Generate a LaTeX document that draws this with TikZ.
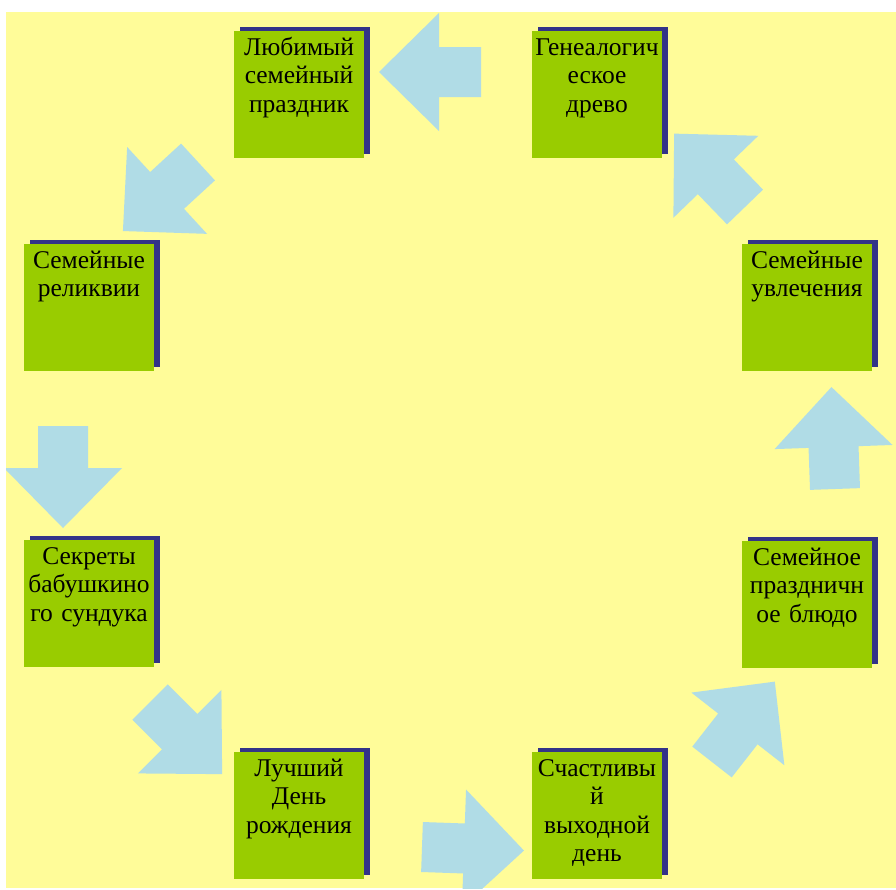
\documentclass[tikz,border=0pt]{standalone}
\usepackage{fontspec}
\setmainfont{Liberation Serif}
\definecolor{bgyellow}{HTML}{FFFC99}
\definecolor{boxgreen}{HTML}{99CC00}
\definecolor{shadownavy}{HTML}{333388}
\definecolor{arrowblue}{HTML}{B0DCE6}
\tikzset{
  cardbox/.style={fill=boxgreen, draw=none, minimum width=130pt, minimum height=127pt, inner sep=0pt, anchor=north west},
  cardshadow/.style={fill=shadownavy},
  cardtext/.style={anchor=north, inner sep=0pt, text width=130pt, align=center, text=black,
    font=\fontsize{25.5}{28.5}\selectfont},
  arrowshape/.style={fill=arrowblue, draw=none}
}
\newcommand{\famcard}[4]{%
  \fill[cardshadow] (#2+6,#3-4) rectangle ++(130,127);
  \node[cardbox] (#1) at (#2,#3) {};
  \node[cardtext] (#1-t) at (#2+65,#3+1) {\rule{0pt}{23pt}#4};
}
\newcommand{\blockarrow}[3]{%
  \begin{scope}[shift={(#1,#2)},rotate=#3]
    \fill[arrowshape] (0,-25) -- (42,-25) -- (42,-59) -- (102,0) -- (42,59) -- (42,25) -- (0,25) -- cycle;
  \end{scope}
}
\begin{document}
\begin{tikzpicture}[x=1pt,y=-1pt]
\useasboundingbox (0,0) rectangle (896,889);
\fill[white] (0,0) rectangle (896,889);
\fill[bgyellow] (6,12) rectangle (896,888);
\begin{scope}
  \clip (6,12) rectangle (896,888);
  \blockarrow{481}{72}{180}
  \blockarrow{198}{162}{222.6}
  \blockarrow{63}{426}{270}
  \blockarrow{150}{702}{-45}
  \blockarrow{422}{847}{-2}
  \blockarrow{712}{762}{52}
  \blockarrow{835}{489}{92}
  \blockarrow{745}{207}{134}
\end{scope}
\famcard{c1}{234}{31}{Любимый\\семейный\\праздник}
\famcard{c2}{532}{31}{Генеалогич\\еское\\древо}
\famcard{c3}{742}{244}{Семейные\\увлечения}
\famcard{c4}{742}{541}{Семейное\\праздничн\\ое блюдо}
\famcard{c5}{532}{752}{Счастливы\\й\\выходной\\день}
\famcard{c6}{234}{752}{Лучший\\День\\рождения}
\famcard{c7}{24}{540}{Секреты\\бабушкино\\го сундука}
\famcard{c8}{24}{244}{Семейные\\реликвии}
\end{tikzpicture}
\end{document}
